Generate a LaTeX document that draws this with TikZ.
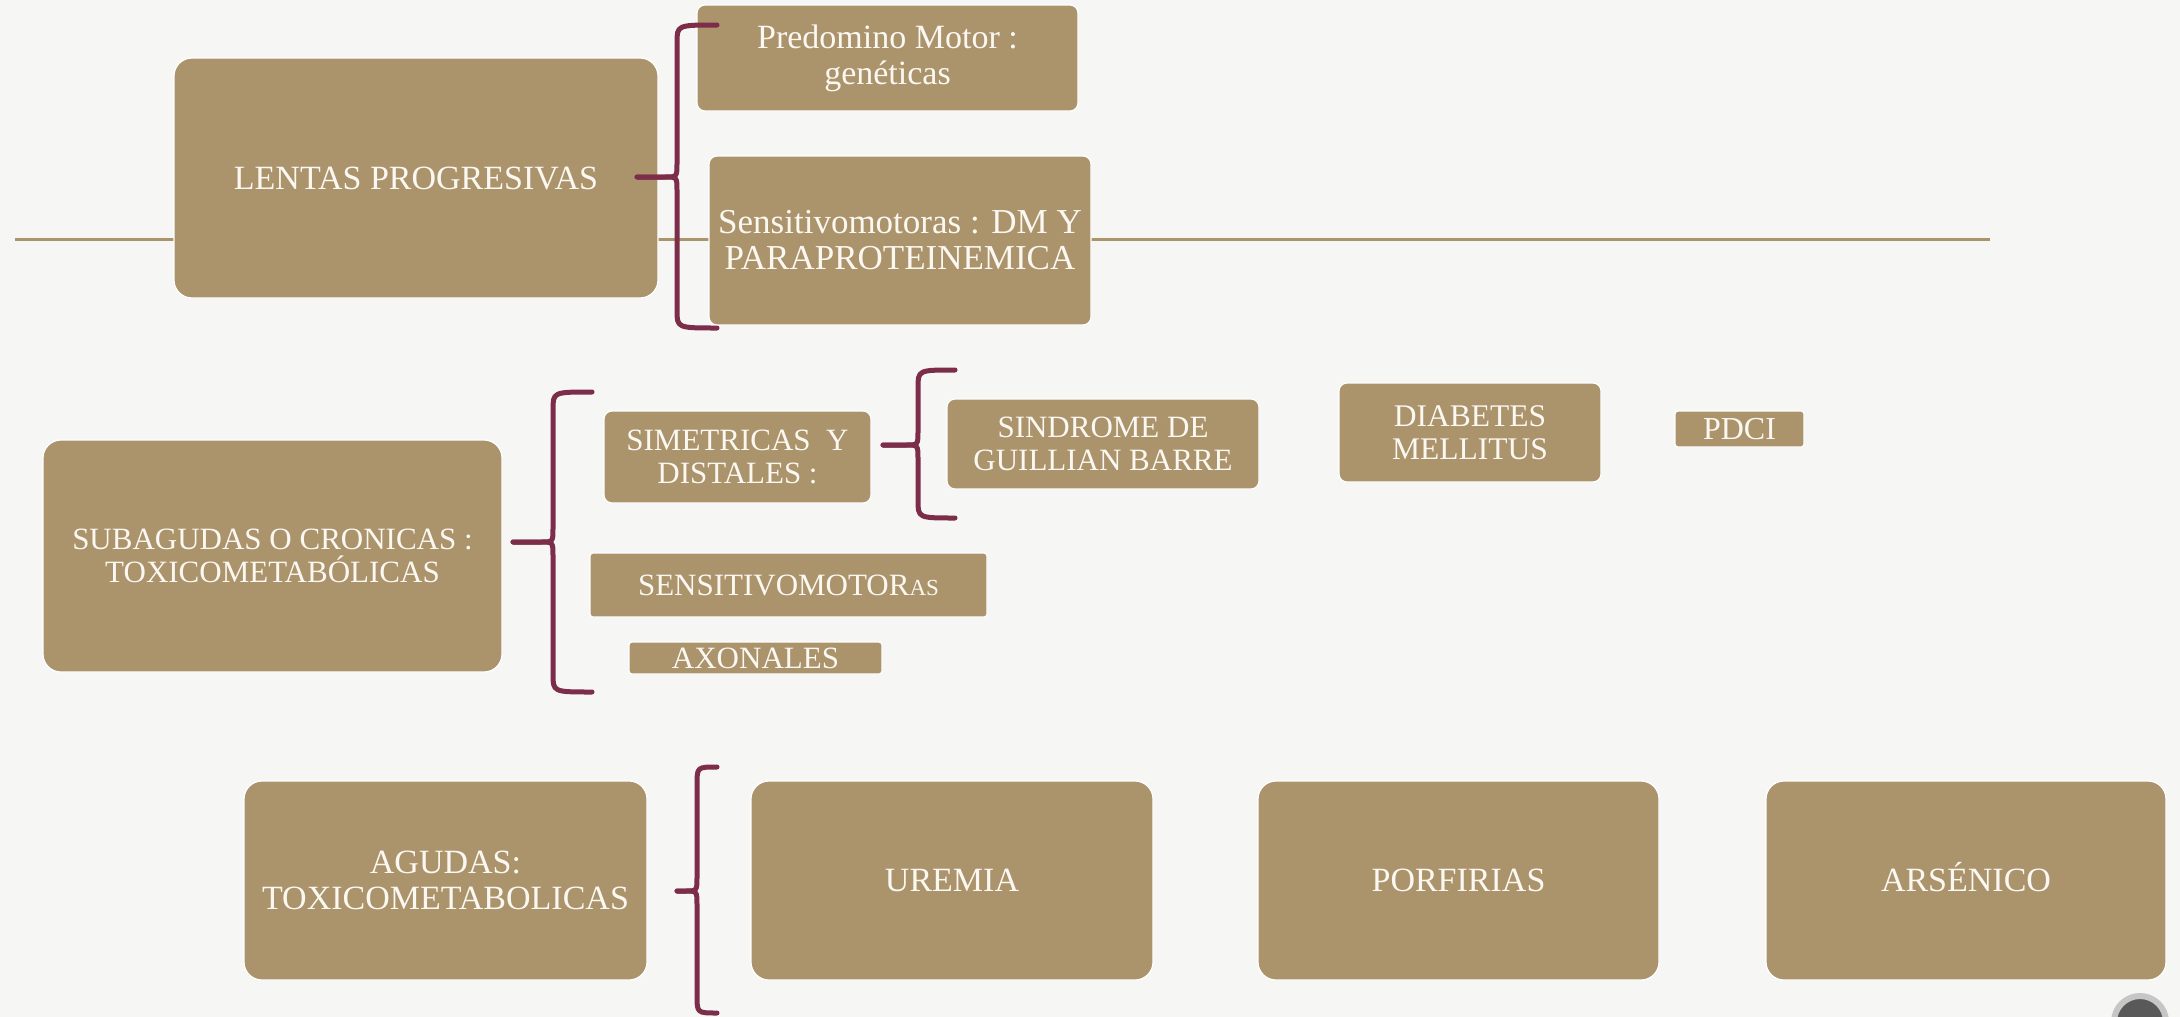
\documentclass[tikz,border=0pt]{standalone}
\usepackage{fontspec}
\setmainfont{Liberation Serif}
\definecolor{paper}{HTML}{F6F6F5}
\definecolor{tan}{HTML}{AB936C}
\definecolor{plum}{HTML}{7B2D4A}
\definecolor{ink}{HTML}{FBF8F2}
\tikzset{
  box/.style={fill=tan, draw=white, line width=1.2pt, text=ink, align=center,
    inner sep=0pt, rounded corners=18pt,
    font=\fontsize{34}{36}\selectfont},
  smallbox/.style={box, rounded corners=8pt},
  slimbox/.style={box, rounded corners=3pt},
  midtext/.style={font=\fontsize{31}{33}\selectfont},
  bracestyle/.style={draw=plum, line width=5pt, line cap=round, line join=round},
}
% left curly brace: #1 arm x, #2 spine x, #3 top y, #4 bottom y, #5 tip x, #6 tip y
\newcommand\curlybrace[6]{%
  \draw[bracestyle] (#1,#3) .. controls (#2,#3) .. (#2,#3+18) -- (#2,#6-14)
    .. controls (#2,#6) .. (#2-12,#6) -- (#5,#6);
  \draw[bracestyle] (#5,#6) -- (#2-12,#6) .. controls (#2,#6) .. (#2,#6+14)
    -- (#2,#4-18) .. controls (#2,#4) .. (#1,#4);}
\begin{document}
\begin{tikzpicture}[x=1pt,y=-1pt]
  \fill[paper] (0,0) rectangle (2180,1017);
  \useasboundingbox (0,0) rectangle (2180,1017);
  % horizontal rule behind the upper row
  \coordinate (ruleL) at (15,239);
  \coordinate (ruleR) at (1990,239);
  \draw[tan, line width=3pt] (ruleL) -- (ruleR);

  % upper group
  \node[box, minimum width=484pt, minimum height=240pt] (lentas) at (416,178) {LENTAS PROGRESIVAS};
  \node[smallbox, minimum width=381pt, minimum height=106pt] (predom) at (887.5,58) {Predomino Motor :\\genéticas};
  \node[smallbox, minimum width=382pt, minimum height=169pt, font=\fontsize{35}{36}\selectfont] (sensdm) at (900,240.5) {Sensitivomotoras : DM Y\\PARAPROTEINEMICA};

  % middle group
  \node[box, midtext, minimum width=459pt, minimum height=232pt] (subag) at (272.5,556) {SUBAGUDAS O CRONICAS :\\TOXICOMETABÓLICAS};
  \node[smallbox, midtext, minimum width=267pt, minimum height=92pt] (simet) at (737.5,457) {SIMETRICAS\ \ Y\\DISTALES :};
  \node[smallbox, midtext, minimum width=312pt, minimum height=90pt] (sindr) at (1103,444) {SINDROME DE\\GUILLIAN BARRE};
  \node[slimbox, midtext, minimum width=397pt, minimum height=64pt] (sensit) at (788.5,585) {SENSITIVOMOTOR{\fontsize{23}{23}\selectfont AS}};
  \node[slimbox, midtext, minimum width=253pt, minimum height=32pt] (axon) at (755.5,658) {AXONALES};
  \node[smallbox, minimum width=262pt, minimum height=99pt, font=\fontsize{31.5}{33}\selectfont] (diab) at (1470,432.5) {DIABETES\\MELLITUS};
  \node[slimbox, minimum width=129pt, minimum height=36pt, font=\fontsize{32}{33}\selectfont] (pdci) at (1739.5,429) {PDCI};

  % lower group
  \node[box, minimum width=403pt, minimum height=199pt] (agudas) at (445.5,880.5) {AGUDAS:\\TOXICOMETABOLICAS};
  \node[box, minimum width=402pt, minimum height=199pt] (uremia) at (952,880.5) {UREMIA};
  \node[box, minimum width=401pt, minimum height=199pt] (porf) at (1458.5,880.5) {PORFIRIAS};
  \node[box, minimum width=400pt, minimum height=199pt, text height=23pt] (arsen) at (1966,880.5) {ARSÉNICO};

  % braces grouping each parent with its children
  \curlybrace{717}{677}{25}{328}{637}{177}
  \curlybrace{592}{553}{392}{692}{513}{542}
  \curlybrace{955}{918}{370}{518}{883}{445}
  \curlybrace{717}{697}{767}{1013}{677}{891}

  % navigation button in the corner
  \node[circle, minimum size=52pt, inner sep=0pt, draw=gray!45, line width=6pt,
        fill=gray!70!black] (navbtn) at (2140,1022) {};
\end{tikzpicture}
\end{document}
